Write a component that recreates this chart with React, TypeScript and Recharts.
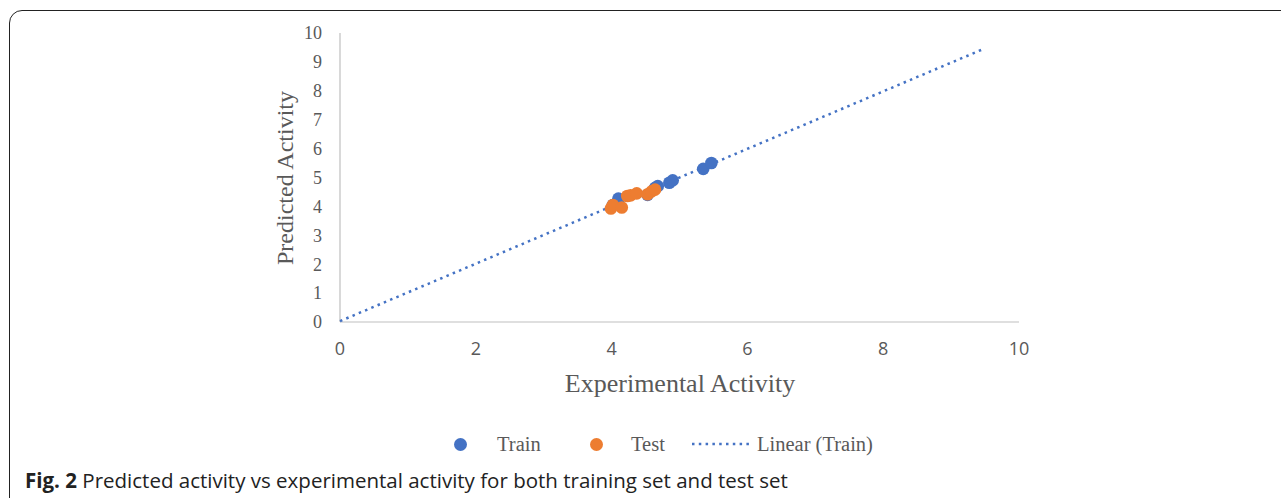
import React from "react";
import { ScatterChart, Scatter, XAxis, YAxis } from "recharts";

const BLUE = "#4472C4";
const ORANGE = "#ED7D31";
const GREY = "#595959";

const trainX = [4.02, 4.1, 4.53, 4.64, 4.68, 4.85, 4.9, 5.35, 5.47];
const trainY = [4.05, 4.27, 4.4, 4.64, 4.7, 4.82, 4.9, 5.3, 5.5];
const testX = [3.99, 4.02, 4.15, 4.23, 4.28, 4.37, 4.53, 4.59, 4.64];
const testY = [3.93, 4.05, 3.96, 4.36, 4.38, 4.45, 4.42, 4.52, 4.58];
// trendline end points
const trendX = [0, 9.48];
const trendY = [0.03, 9.45];

const xTicks = [0, 2, 4, 6, 8, 10];
const yTicks = [0, 1, 2, 3, 4, 5, 6, 7, 8, 9, 10];

const zip = (xs: number[], ys: number[]) => xs.map((x, i) => ({ x, y: ys[i] }));

const trainData = zip(trainX, trainY);
const testData = zip(testX, testY);
const trendData = zip(trendX, trendY);

const dot = (color: string) => (props: any) =>
  <circle cx={props.cx} cy={props.cy} r={6.3} fill={color} />;

const serif = "'Liberation Serif', 'Times New Roman', serif";

export default function App() {
  return (
    <div style={{ position: "absolute", left: 0, top: 0, width: 1281, height: 498, overflow: "hidden", background: "#fff" }}>
      <div
        style={{
          position: "absolute", left: 9, top: 10, width: 1320, height: 540,
          border: "1.5px solid #222", borderRadius: 13,
        }}
      />
      <div style={{ position: "absolute", left: 0, top: 0 }}>
        <ScatterChart width={1281} height={420} margin={{ top: 33, right: 262, left: 0, bottom: 0 }}>
          <XAxis
            type="number" dataKey="x" domain={[0, 10]} ticks={xTicks}
            height={98} tickLine={false} tickSize={0} tickMargin={20}
            axisLine={{ stroke: "#BFBFBF", strokeWidth: 1.2 }}
            tick={{ fill: GREY, fontSize: 18, fontFamily: "'Open Sans', sans-serif" }}
          />
          <YAxis
            type="number" dataKey="y" domain={[0, 10]} ticks={yTicks}
            width={340} tickLine={false} tickSize={0} tickMargin={18}
            axisLine={{ stroke: "#BFBFBF", strokeWidth: 1.2 }}
            tick={{ fill: GREY, fontSize: 18, fontFamily: serif }}
          />
          <Scatter
            data={trendData}
            line={{ stroke: BLUE, strokeWidth: 2.5, strokeDasharray: "2.5 4.3" }}
            shape={() => <g />}
            isAnimationActive={false}
          />
          <Scatter data={trainData} shape={dot(BLUE)} isAnimationActive={false} />
          <Scatter data={testData} shape={dot(ORANGE)} isAnimationActive={false} />
        </ScatterChart>
      </div>

      <div style={{ position: "absolute", left: 480, width: 400, top: 367, textAlign: "center", fontFamily: serif, fontSize: 26, color: GREY, lineHeight: "34px" }}>
        Experimental Activity
      </div>
      <div
        style={{
          position: "absolute", left: 285 - 150, top: 178 - 17, width: 300, height: 34,
          transform: "rotate(-90deg)", textAlign: "center",
          fontFamily: serif, fontSize: 24, color: GREY, lineHeight: "34px",
        }}
      >
        Predicted Activity
      </div>

      {/* legend */}
      <div style={{ position: "absolute", top: 433, left: 0, height: 24, fontFamily: serif, fontSize: 20.5, color: GREY }}>
        <span style={{ position: "absolute", left: 453.5, top: 5, width: 13, height: 13, borderRadius: 7, background: BLUE }} />
        <span style={{ position: "absolute", left: 497, top: 0, whiteSpace: "nowrap" }}>Train</span>
        <span style={{ position: "absolute", left: 589.5, top: 5, width: 13, height: 13, borderRadius: 7, background: ORANGE }} />
        <span style={{ position: "absolute", left: 631, top: 0, whiteSpace: "nowrap" }}>Test</span>
        <svg style={{ position: "absolute", left: 691, top: 9 }} width={60} height={4}>
          <line x1={1} y1={2} x2={58} y2={2} stroke={BLUE} strokeWidth={2.5} strokeDasharray="2.5 4.3" />
        </svg>
        <span style={{ position: "absolute", left: 757, top: 0, whiteSpace: "nowrap" }}>Linear (Train)</span>
      </div>

      <div style={{ position: "absolute", left: 25, top: 466, fontFamily: "'Open Sans', sans-serif", fontSize: 20.5, color: "#222", whiteSpace: "nowrap" }}>
        <b>Fig. 2</b> Predicted activity vs experimental activity for both training set and test set
      </div>
    </div>
  );
}
